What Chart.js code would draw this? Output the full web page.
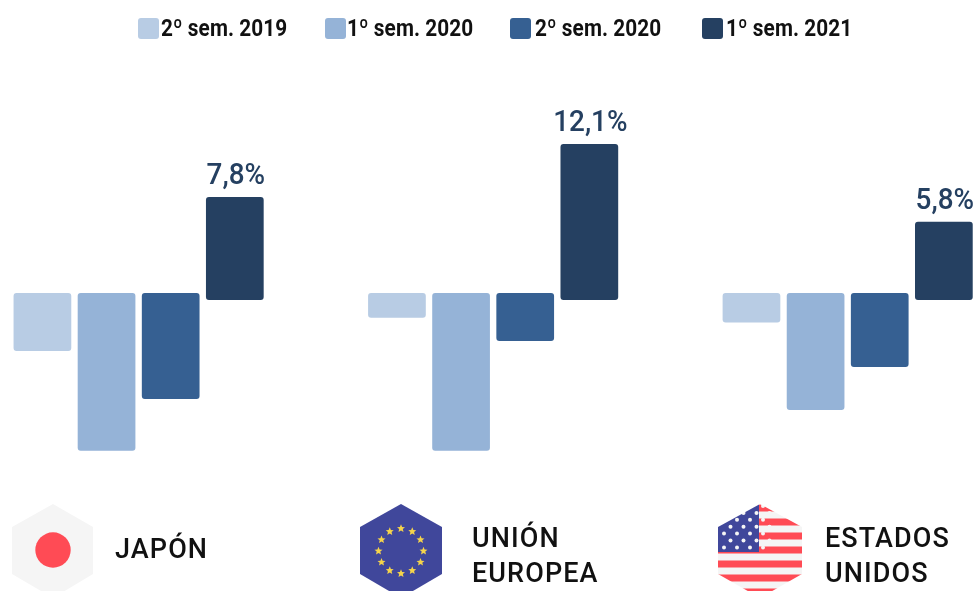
<!DOCTYPE html>
<html lang="es">
<head>
<meta charset="utf-8">
<style>
html,body{margin:0;padding:0;background:#fff;width:976px;height:591px;overflow:hidden}
#wrap{position:relative;width:976px;height:591px;overflow:hidden;font-family:Roboto,sans-serif}
canvas{position:absolute;left:0;top:0}
.lg{position:absolute;top:16px;height:24px;line-height:24px;font-size:24px;font-weight:700;color:#111;white-space:nowrap}
.lg i{position:absolute;top:2px;left:0;width:21px;height:21px;border-radius:3px}
.lg span{display:inline-block;transform:scaleX(.865);transform-origin:0 50%;letter-spacing:.1px}
.cat{position:absolute;font-size:27px;line-height:35px;font-weight:500;color:#111;letter-spacing:1.1px;white-space:pre-line}
svg{position:absolute;top:0;left:0}
</style>
</head>
<body>
<div id="wrap">
<canvas id="c" width="976" height="591"></canvas>
<svg width="976" height="591" viewBox="0 0 976 591">
<defs>
<filter id="b"><feGaussianBlur stdDeviation="0.6"/></filter>
<clipPath id="h1"><path d="M53 504L93 527V574L53 598L12 574V527Z"/></clipPath>
<clipPath id="h2"><path d="M401 504L442 527V574L401 598L360 574V527Z"/></clipPath>
<clipPath id="h3"><path d="M760 504L802 527V574L760 598L718 574V527Z"/></clipPath>
</defs>
<g filter="url(#b)">
<g clip-path="url(#h1)"><rect x="10" y="500" width="90" height="100" fill="#f5f5f5"/><circle cx="53" cy="550" r="17.7" fill="#ff4b55"/></g>
<g clip-path="url(#h2)"><rect x="355" y="500" width="90" height="100" fill="#41479b"/><g id="stars" fill="#f5d44b"></g></g>
<g clip-path="url(#h3)" id="us"></g>
</g>
</svg>
</div>
<script src="https://cdn.jsdelivr.net/npm/chart.js@4"></script>
<script>
const categories = ['JAPÓN', 'UNIÓN\nEUROPEA', 'ESTADOS\nUNIDOS'];
const seriesNames = ['2º sem. 2019', '1º sem. 2020', '2º sem. 2020', '1º sem. 2021'];
const sem2019b = [-4.7, -2.0, -2.4];
const sem2020a = [-12.8, -12.8, -9.5];
const sem2020b = [-8.6, -3.9, -6.0];
const sem2021a = [7.8, 12.1, 5.8];
const seriesColors = ['#B8CCE4', '#95B3D7', '#366092', '#254061'];

const legendX = [138, 325, 510, 702];
const legendTextX = [23, 22, 25, 24];
const catX = [115, 472, 825];
const catY = [532, 521, 521];

const wrap = document.getElementById('wrap');
seriesNames.forEach((n, i) => {
  const d = document.createElement('div');
  d.className = 'lg';
  d.style.left = legendX[i] + 'px';
  d.style.paddingLeft = legendTextX[i] + 'px';
  const t = document.createElement('span');
  t.textContent = n;
  d.appendChild(t);
  const b = document.createElement('i');
  b.style.background = seriesColors[i];
  d.appendChild(b);
  wrap.appendChild(d);
});
categories.forEach((n, i) => {
  const d = document.createElement('div');
  d.className = 'cat';
  d.style.left = catX[i] + 'px';
  d.style.top = catY[i] + 'px';
  d.textContent = n;
  wrap.appendChild(d);
});

// EU stars
const NS = 'http://www.w3.org/2000/svg';
const starG = document.getElementById('stars');
for (let k = 0; k < 12; k++) {
  const a = k * Math.PI / 6;
  const cx = 401 + 22.5 * Math.sin(a), cy = 551 - 22.5 * Math.cos(a);
  let pts = '';
  for (let j = 0; j < 10; j++) {
    const r = j % 2 ? 1.9 : 4.2, t = j * Math.PI / 5;
    pts += (cx + r * Math.sin(t)).toFixed(1) + ',' + (cy - r * Math.cos(t)).toFixed(1) + ' ';
  }
  const p = document.createElementNS(NS, 'polygon');
  p.setAttribute('points', pts);
  starG.appendChild(p);
}
// US flag
const us = document.getElementById('us');
function r(x, y, w, h, f) {
  const e = document.createElementNS(NS, 'rect');
  e.setAttribute('x', x); e.setAttribute('y', y); e.setAttribute('width', w); e.setAttribute('height', h); e.setAttribute('fill', f);
  us.appendChild(e);
}
r(715, 500, 90, 100, '#f5f5f5');
for (let y = 504.5; y < 600; y += 14) r(715, y, 90, 7, '#ff4b55');
r(715, 500, 44, 52, '#41479b');
for (let row = 0; row < 7; row++) {
  for (let col = 0; col < 4; col++) {
    const c = document.createElementNS(NS, 'circle');
    c.setAttribute('cx', 724 + col * 13 + (row % 2 ? 6.5 : 0));
    c.setAttribute('cy', 506 + row * 6.9);
    c.setAttribute('r', 2);
    c.setAttribute('fill', '#f5f5f5');
    us.appendChild(c);
  }
}

const seriesValues = [sem2019b, sem2020a, sem2020b, sem2021a];
const valueLabels = {
  id: 'valueLabels',
  afterDatasetsDraw(chart) {
    const ctx = chart.ctx;
    const meta = chart.getDatasetMeta(3);
    meta.data.forEach((bar, i) => {
      const t = sem2021a[i].toFixed(1).replace('.', ',') + '%';
      ctx.save();
      ctx.font = '500 30px Roboto, sans-serif';
      ctx.fillStyle = '#254061';
      ctx.textAlign = 'center';
      ctx.textBaseline = 'alphabetic';
      ctx.translate(Math.min(bar.x + 1, 946), bar.y - 13);
      ctx.scale(0.93, 1);
      ctx.fillText(t, 0, 0);
      ctx.restore();
    });
  }
};

new Chart(document.getElementById('c'), {
  type: 'bar',
  data: {
    datasets: seriesNames.map((n, s) => {
      const ds = {
        label: n,
        data: seriesValues[s].map((v, i) => ({ x: i + 1, y: v })),
        backgroundColor: seriesColors[s],
        borderRadius: 3,
        borderSkipped: false,
        categoryPercentage: 0.7236,
        barPercentage: 0.9
      };
      if (s === 3) ds.base = -0.57;
      return ds;
    })
  },
  plugins: [valueLabels],
  options: {
    responsive: false,
    animation: false,
    layout: { padding: 0 },
    plugins: { legend: { display: false }, tooltip: { enabled: false } },
    scales: {
      x: {
        type: 'linear', display: false, min: 0.609, max: 3.362, offset: false,
        afterBuildTicks(scale) { scale.ticks = categories.map((c, i) => ({ value: i + 1 })); }
      },
      y: { display: false, min: -24.2, max: 23.8 }
    }
  }
});
</script>
</body>
</html>
